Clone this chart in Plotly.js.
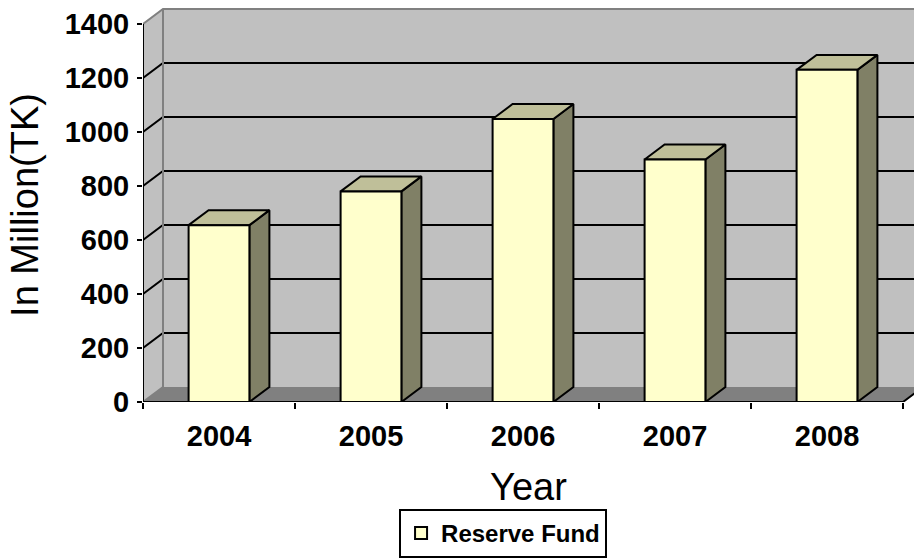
<!DOCTYPE html>
<html>
<head>
<meta charset="utf-8">
<script src="https://cdn.plot.ly/plotly-3.0.1.min.js"></script>
<style>html,body{margin:0;padding:0;background:#fff;}#chart{width:914px;height:558px;}</style>
</head>
<body>
<div id="chart"></div>
<script>
// ---- data ----
const years = ['2004', '2005', '2006', '2007', '2008'];
const reserveFund = [655, 780, 1048, 898, 1230];
const yTicks = [0, 200, 400, 600, 800, 1000, 1200, 1400];
const seriesName = 'Reserve Fund';

// ---- geometry / style (not data) ----
const FONT = "'Liberation Sans', Arial, sans-serif";
const PX_PER_CAT = 152;
const PX_PER_Y = 379 / 1400;
const DX = 20 / PX_PER_CAT;       // depth offset in x units
const DY = 15 / PX_PER_Y;         // depth offset in y units
const BAR_W = 0.4;
const n = years.length;
const X0 = -0.5, X1 = n - 0.5;
const YMAX = yTicks[yTicks.length - 1];
const xRange = [-0.5, -0.5 + 771 / PX_PER_CAT];
const yRange = [0, YMAX + 16 / PX_PER_Y];
const XR = X1 + DX + 0.2;
const idx = years.map((_, i) => i);

const traces = [];
function poly(xs, ys, fill, lineColor, lineWidth) {
  traces.push({
    type: 'scatter', mode: lineWidth ? 'lines' : 'none', x: xs, y: ys,
    fill: 'toself', fillcolor: fill,
    line: {color: lineColor || fill, width: lineWidth || 0},
    hoverinfo: 'skip', showlegend: false
  });
}
function lines(xs, ys, color, width) {
  traces.push({
    type: 'scatter', mode: 'lines', x: xs, y: ys,
    line: {color: color, width: width}, connectgaps: false,
    hoverinfo: 'skip', showlegend: false
  });
}

// back wall
poly([X0 + DX, XR, XR, X0 + DX], [DY, DY, YMAX + DY, YMAX + DY], '#C0C0C0');
// side wall
poly([X0, X0, X0 + DX, X0 + DX], [0, YMAX, YMAX + DY, DY], '#C0C0C0');
// floor
poly([X0, X1, X1 + DX, XR, XR, X0 + DX], [0, 0, DY, DY, DY, DY], '#808080');

// gridlines
const gx = [], gy = [];
yTicks.slice(1, -1).forEach(v => {
  gx.push(X0, X0 + DX, XR, null);
  gy.push(v, v + DY, v + DY, null);
});
lines(gx, gy, '#000000', 2);

// wall edges (gray)
lines([X0, X0 + DX, XR, null, X0 + DX, X0 + DX, null, X0, X0 + DX],
      [YMAX, YMAX + DY, YMAX + DY, null, DY, YMAX + DY, null, 0, DY], '#808080', 2);

// axis lines
lines([X0, X0, null, X0, X1, X1 + DX], [0, YMAX, null, 0, 0, DY], '#000000', 2);

// bar side and top faces
reserveFund.forEach((v, i) => {
  const l = i - BAR_W / 2, r = i + BAR_W / 2;
  poly([r, r, r + DX, r + DX, r], [0, v, v + DY, DY, 0], '#808066', '#000000', 2);
  poly([l, r, r + DX, l + DX, l], [v, v, v + DY, v + DY, v], '#BFBF99', '#000000', 2);
});

// front faces (real bars)
traces.push({
  type: 'bar', x: idx, y: reserveFund, xaxis: 'x2', yaxis: 'y',
  width: BAR_W, name: seriesName,
  marker: {color: '#FFFFCC', line: {color: '#000000', width: 2}},
  hoverinfo: 'y', showlegend: true
});

const layout = {
  width: 914, height: 558,
  margin: {l: 143, r: 0, t: 8, b: 155},
  paper_bgcolor: '#FFFFFF', plot_bgcolor: 'rgba(0,0,0,0)',
  font: {family: FONT, color: '#000000'},
  showlegend: true,
  xaxis: {
    type: 'linear', range: xRange, fixedrange: true, automargin: false,
    tickvals: Array.from({length: n + 1}, (_, i) => i - 0.5),
    showticklabels: false, ticks: 'outside', ticklen: 6, tickwidth: 2, tickcolor: '#000000',
    showgrid: false, zeroline: false, showline: false
  },
  xaxis2: {
    type: 'linear', overlaying: 'x', anchor: 'y', side: 'bottom', range: xRange, fixedrange: true,
    automargin: false,
    tickvals: idx, ticktext: years, ticks: '',
    tickfont: {family: FONT, size: 29, weight: 'bold', color: '#000000'},
    ticklabelstandoff: 14,
    showgrid: false, zeroline: false, showline: false,
    title: {text: 'Year', font: {family: FONT, size: 38, color: '#000000'}, standoff: 22}
  },
  yaxis: {
    range: yRange, fixedrange: true, automargin: false,
    tickvals: yTicks, ticktext: yTicks.map(String),
    ticks: 'outside', ticklen: 5, tickwidth: 2, tickcolor: '#000000',
    tickfont: {family: FONT, size: 29, weight: 'bold', color: '#000000'},
    ticklabelstandoff: 2,
    showgrid: false, zeroline: false, showline: false,
    title: {text: 'In Million(TK)', font: {family: FONT, size: 38, color: '#000000'}, standoff: 14}
  },
  legend: {
    x: 0.467, xanchor: 'center', y: -0.272, yanchor: 'top', orientation: 'h',
    bgcolor: '#FFFFFF', bordercolor: '#000000', borderwidth: 2,
    itemwidth: 30, tracegroupgap: 0,
    font: {family: FONT, size: 24, weight: 'bold', color: '#000000'}
  }
};

Plotly.newPlot('chart', traces, layout, {displayModeBar: false, staticPlot: true});
</script>
</body>
</html>
